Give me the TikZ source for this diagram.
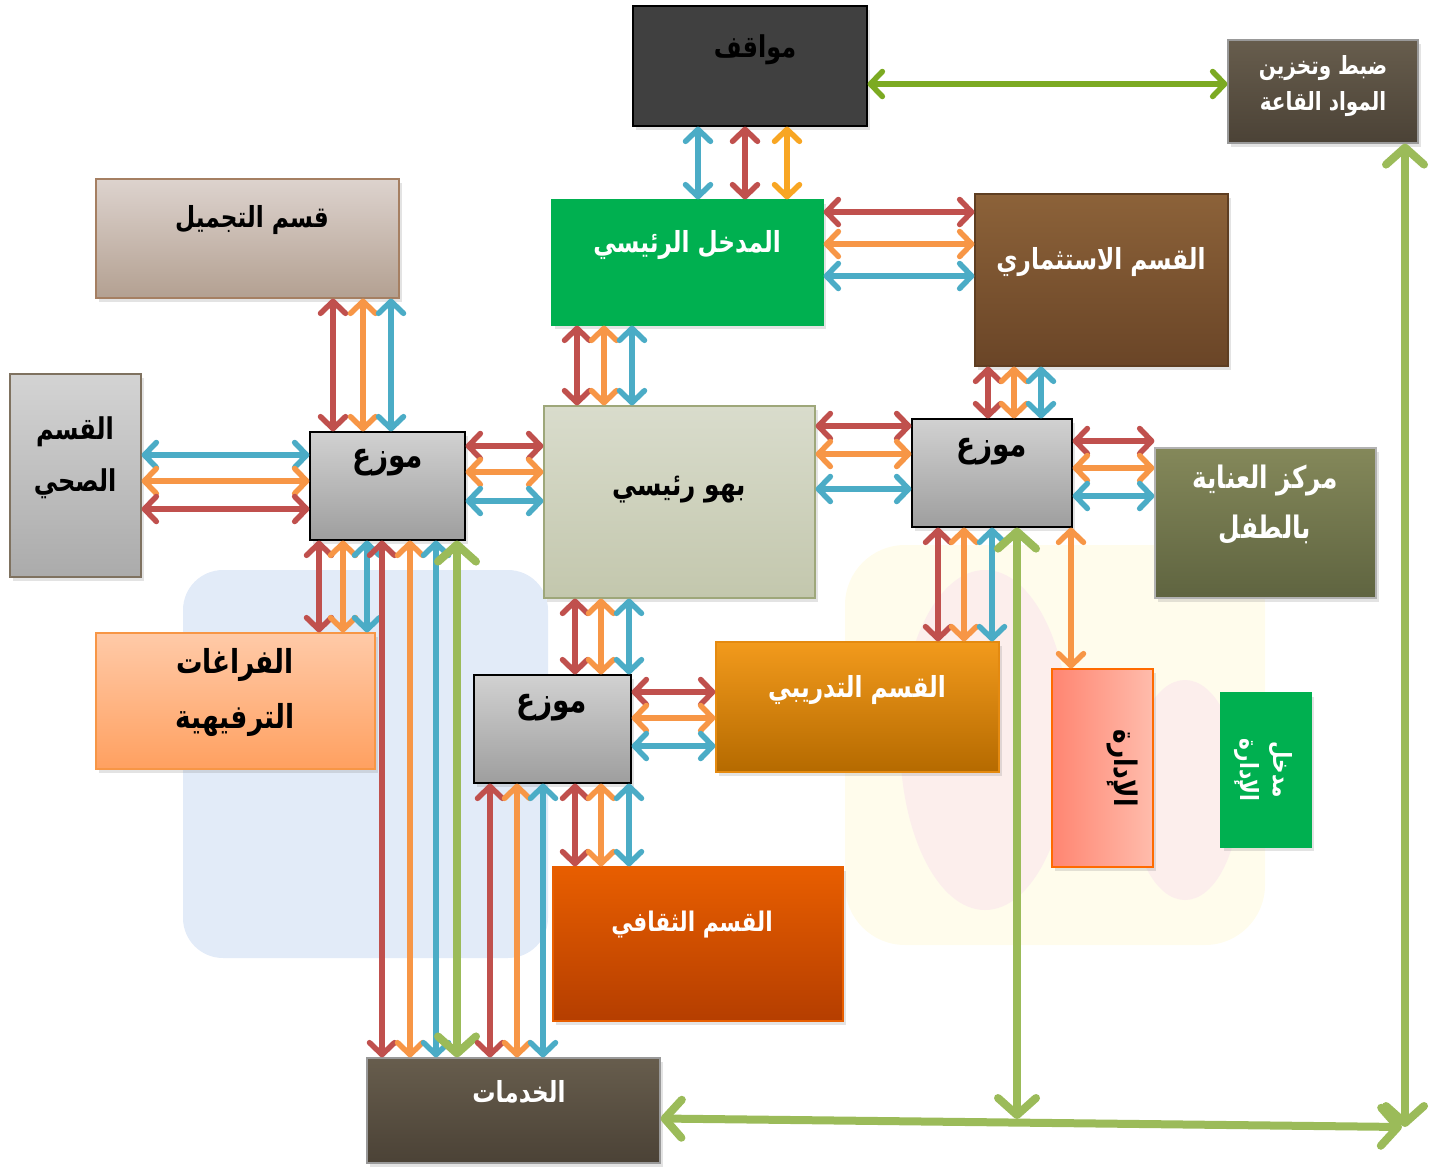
\documentclass[tikz,border=0pt]{standalone}
\usepackage{fontspec}
\newfontfamily\arabicfont[Script=Arabic,FakeStretch=0.8]{DejaVu Sans}
\TeXXeTstate=1
\usetikzlibrary{arrows.meta,shadows}

\definecolor{cred}{HTML}{C0504D}
\definecolor{corange}{HTML}{F79646}
\definecolor{cblue}{HTML}{4BACC6}
\definecolor{cgreen}{HTML}{9BBB59}
\definecolor{cgold}{HTML}{F8A623}
\definecolor{cdkgreen}{HTML}{7CAA22}
\definecolor{cleaf}{HTML}{00B050}
\definecolor{servTop}{HTML}{675D4D}
\definecolor{servBot}{HTML}{4B4236}
\definecolor{invTop}{HTML}{8C6239}
\definecolor{invBot}{HTML}{6A4527}
\definecolor{invLine}{HTML}{5E3E22}
\definecolor{beaTop}{HTML}{DDD3CE}
\definecolor{beaBot}{HTML}{B3A091}
\definecolor{beaLine}{HTML}{A57F62}
\definecolor{heaLine}{HTML}{7F7260}
\definecolor{lobTop}{HTML}{D9DCCC}
\definecolor{lobBot}{HTML}{C3C7AD}
\definecolor{lobLine}{HTML}{9EA77A}
\definecolor{chiTop}{HTML}{84885A}
\definecolor{chiBot}{HTML}{5F6440}
\definecolor{recTop}{HTML}{FFCAA8}
\definecolor{recBot}{HTML}{FFA060}
\definecolor{traTop}{HTML}{F29A1C}
\definecolor{traBot}{HTML}{B56A00}
\definecolor{traLine}{HTML}{E48A10}
\definecolor{admLeft}{HTML}{FF8571}
\definecolor{admRight}{HTML}{FFBCAC}
\definecolor{admLine}{HTML}{FF6A00}
\definecolor{culTop}{HTML}{E85E00}
\definecolor{culBot}{HTML}{B53E00}
\definecolor{washBlue}{HTML}{E2EBF8}
\definecolor{washYellow}{HTML}{FFFCEC}
\definecolor{washPink}{HTML}{FCEEEC}

\tikzset{
  box/.style={draw=#1, line width=1.2pt, inner sep=0pt,
    drop shadow={opacity=0.22, shadow xshift=3pt, shadow yshift=-4pt}},
  dist/.style={box=black, top color=black!18, bottom color=black!38,
    minimum height=108pt},
  lbl/.style={font=\arabicfont\bfseries\fontsize{29}{40}\selectfont,
    align=center, inner sep=0pt},
  link/.style={draw=#1, line width=5.5pt,
    {Straight Barb[length=12pt,width=25pt,round]}-{Straight Barb[length=12pt,width=25pt,round]}},
  glink/.style={draw=cgreen, line width=8pt,
    {Straight Barb[length=17pt,width=38pt,round]}-{Straight Barb[length=17pt,width=38pt,round]}},
}

\begin{document}
\begin{tikzpicture}[x=1pt,y=-1pt]
  \useasboundingbox (0,0) rectangle (1430,1167);

  % faded picture behind the plan
  \fill[washBlue, rounded corners=40pt] (183,570) rectangle (548,958);
  \fill[washYellow, rounded corners=60pt] (845,545) rectangle (1265,945);
  \fill[washPink] (985,740) ellipse (85pt and 170pt);
  \fill[washPink] (1185,790) ellipse (55pt and 110pt);

  % boxes
  \node[box=black, fill=black!75, minimum width=234pt, minimum height=120pt]
    (park) at (750,66) {};
  \node[box=black!40, top color=servTop, bottom color=servBot,
    minimum width=190pt, minimum height=103pt] (store) at (1323,91.5) {};
  \node[box=cleaf, fill=cleaf, minimum width=271pt, minimum height=125pt]
    (entr) at (687.5,262.5) {};
  \node[box=invLine, top color=invTop, bottom color=invBot,
    minimum width=253pt, minimum height=172pt] (invest) at (1101.5,280) {};
  \node[box=beaLine, top color=beaTop, bottom color=beaBot,
    minimum width=303pt, minimum height=119pt] (beauty) at (247.5,238.5) {};
  \node[box=heaLine, top color=black!17, bottom color=black!33,
    minimum width=131pt, minimum height=203pt] (health) at (75.5,475.5) {};
  \node[dist, minimum width=155pt] (distL) at (387.5,486) {};
  \node[box=lobLine, top color=lobTop, bottom color=lobBot,
    minimum width=271pt, minimum height=192pt] (lobby) at (679.5,502) {};
  \node[dist, minimum width=160pt] (distR) at (992,473) {};
  \node[box=black!30, top color=chiTop, bottom color=chiBot,
    minimum width=221pt, minimum height=150pt] (child) at (1265.5,523) {};
  \node[box=corange, top color=recTop, bottom color=recBot,
    minimum width=279pt, minimum height=136pt] (recr) at (235.5,701) {};
  \node[dist, minimum width=157pt] (distB) at (552.5,729) {};
  \node[box=traLine, top color=traTop, bottom color=traBot,
    minimum width=283pt, minimum height=130pt] (train) at (857.5,707) {};
  \node[box=admLine, left color=admLeft, right color=admRight,
    minimum width=101pt, minimum height=198pt] (admin) at (1102.5,768) {};
  \node[box=cleaf, fill=cleaf, minimum width=90pt, minimum height=154pt]
    (admEntr) at (1266,770) {};
  \node[box=culTop, top color=culTop, bottom color=culBot,
    minimum width=290pt, minimum height=154pt] (cult) at (698,944) {};
  \node[box=black!40, top color=servTop, bottom color=servBot,
    minimum width=293pt, minimum height=105pt] (serv) at (513.5,1110.5) {};

  % texts
  \node[lbl, font=\arabicfont\bfseries\fontsize{30}{40}\selectfont] (parkT) at (755,50) {\beginR مواقف\endR};
  \node[lbl, text=white, font=\arabicfont\bfseries\fontsize{25}{36}\selectfont]
    (storeT) at (1323,86) {\beginR ضبط وتخزين\endR\\\beginR المواد القاعة\endR};
  \node[lbl, text=white] (entrT) at (687,245) {\beginR المدخل الرئيسي\endR};
  \node[lbl, text=white] (investT) at (1101,262) {\beginR القسم الاستثماري\endR};
  \node[lbl] (beautyT) at (252,220) {\beginR قسم التجميل\endR};
  \node[lbl, font=\arabicfont\bfseries\fontsize{30}{52}\selectfont]
    (healthT) at (75,458) {\beginR القسم\endR\\\beginR الصحي\endR};
  \node[lbl, font=\arabicfont\bfseries\fontsize{35}{40}\selectfont] (distLT) at (388,463) {\beginR موزع\endR};
  \node[lbl, font=\arabicfont\bfseries\fontsize{31}{40}\selectfont] (lobbyT) at (679,490) {\beginR بهو رئيسي\endR};
  \node[lbl, font=\arabicfont\bfseries\fontsize{35}{40}\selectfont] (distRT) at (992,452) {\beginR موزع\endR};
  \node[lbl, text=white, font=\arabicfont\bfseries\fontsize{31}{50}\selectfont]
    (childT) at (1265,505) {\beginR مركز العناية\endR\\\beginR بالطفل\endR};
  \node[lbl, font=\arabicfont\bfseries\fontsize{33}{55}\selectfont]
    (recrT) at (235,692) {\beginR الفراغات\endR\\\beginR الترفيهية\endR};
  \node[lbl, font=\arabicfont\bfseries\fontsize{35}{40}\selectfont] (distBT) at (552,708) {\beginR موزع\endR};
  \node[lbl, text=white] (trainT) at (857,690) {\beginR القسم التدريبي\endR};
  \node[lbl, rotate=-90, font=\arabicfont\bfseries\fontsize{31}{40}\selectfont]
    (adminT) at (1122,768) {\beginR الإدارة\endR};
  \node[lbl, rotate=-90, text=white, font=\arabicfont\bfseries\fontsize{25}{33}\selectfont]
    (admEntrT) at (1263,770) {\beginR مدخل\endR\\\beginR الإدارة\endR};
  \node[lbl, text=white, font=\arabicfont\bfseries\fontsize{27}{40}\selectfont]
    (cultT) at (692,925) {\beginR القسم الثقافي\endR};
  \node[lbl, text=white] (servT) at (519,1092) {\beginR الخدمات\endR};

  % parking
  \draw[link=cblue]  ([xshift=-52pt]park.south) -- ([xshift=-52pt]park.south |- entr.north);
  \draw[link=cred]   ([xshift=-5pt]park.south) -- ([xshift=-5pt]park.south |- entr.north);
  \draw[link=cgold]  ([xshift=37pt]park.south) -- ([xshift=37pt]park.south |- entr.north);
  \draw[link=cdkgreen] ([yshift=-18pt]park.east) -- ([yshift=-18pt]park.east -| store.west);

  % main entrance
  \draw[link=cred]    ([yshift=50.5pt]entr.east) -- ([yshift=50.5pt]entr.east -| invest.west);
  \draw[link=corange] ([yshift=18.5pt]entr.east) -- ([yshift=18.5pt]entr.east -| invest.west);
  \draw[link=cblue]   ([yshift=-13.5pt]entr.east) -- ([yshift=-13.5pt]entr.east -| invest.west);
  \draw[link=cred]    ([xshift=-110.5pt]entr.south) -- ([xshift=-110.5pt]entr.south |- lobby.north);
  \draw[link=corange] ([xshift=-83.5pt]entr.south) -- ([xshift=-83.5pt]entr.south |- lobby.north);
  \draw[link=cblue]   ([xshift=-55.5pt]entr.south) -- ([xshift=-55.5pt]entr.south |- lobby.north);

  % left distributor
  \draw[link=cred]    ([xshift=-54.5pt]distL.north) -- ([xshift=-54.5pt]distL.north |- beauty.south);
  \draw[link=corange] ([xshift=-24.5pt]distL.north) -- ([xshift=-24.5pt]distL.north |- beauty.south);
  \draw[link=cblue]   ([xshift=3.5pt]distL.north) -- ([xshift=3.5pt]distL.north |- beauty.south);
  \draw[link=cblue]   ([yshift=31pt]distL.west) -- ([yshift=31pt]distL.west -| health.east);
  \draw[link=corange] ([yshift=5pt]distL.west) -- ([yshift=5pt]distL.west -| health.east);
  \draw[link=cred]    ([yshift=-23pt]distL.west) -- ([yshift=-23pt]distL.west -| health.east);
  \draw[link=cred]    ([yshift=40pt]distL.east) -- ([yshift=40pt]distL.east -| lobby.west);
  \draw[link=corange] ([yshift=14pt]distL.east) -- ([yshift=14pt]distL.east -| lobby.west);
  \draw[link=cblue]   ([yshift=-15pt]distL.east) -- ([yshift=-15pt]distL.east -| lobby.west);
  \draw[link=cred]    ([xshift=-68.5pt]distL.south) -- ([xshift=-68.5pt]distL.south |- recr.north);
  \draw[link=corange] ([xshift=-44.5pt]distL.south) -- ([xshift=-44.5pt]distL.south |- recr.north);
  \draw[link=cblue]   ([xshift=-20.5pt]distL.south) -- ([xshift=-20.5pt]distL.south |- recr.north);
  \draw[link=cred]    ([xshift=-5.5pt]distL.south) -- ([xshift=-5.5pt]distL.south |- serv.north);
  \draw[link=corange] ([xshift=22.5pt]distL.south) -- ([xshift=22.5pt]distL.south |- serv.north);
  \draw[link=cblue]   ([xshift=48.5pt]distL.south) -- ([xshift=48.5pt]distL.south |- serv.north);
  \draw[glink]        ([xshift=69.5pt]distL.south) -- ([xshift=69.5pt]distL.south |- serv.north);

  % right distributor
  \draw[link=cred]    ([xshift=-4pt]distR.north) -- ([xshift=-4pt]distR.north |- invest.south);
  \draw[link=corange] ([xshift=22pt]distR.north) -- ([xshift=22pt]distR.north |- invest.south);
  \draw[link=cblue]   ([xshift=49pt]distR.north) -- ([xshift=49pt]distR.north |- invest.south);
  \draw[link=cred]    ([yshift=47pt]distR.west) -- ([yshift=47pt]distR.west -| lobby.east);
  \draw[link=corange] ([yshift=19pt]distR.west) -- ([yshift=19pt]distR.west -| lobby.east);
  \draw[link=cblue]   ([yshift=-16pt]distR.west) -- ([yshift=-16pt]distR.west -| lobby.east);
  \draw[link=cred]    ([yshift=32pt]distR.east) -- ([yshift=32pt]distR.east -| child.west);
  \draw[link=corange] ([yshift=5pt]distR.east) -- ([yshift=5pt]distR.east -| child.west);
  \draw[link=cblue]   ([yshift=-23pt]distR.east) -- ([yshift=-23pt]distR.east -| child.west);
  \draw[link=cred]    ([xshift=-54pt]distR.south) -- ([xshift=-54pt]distR.south |- train.north);
  \draw[link=corange] ([xshift=-28pt]distR.south) -- ([xshift=-28pt]distR.south |- train.north);
  \draw[link=cblue]   (distR.south) -- (distR.south |- train.north);
  \draw[link=corange] ([xshift=-31.5pt]admin.north) -- ([xshift=-31.5pt]admin.north |- distR.south);

  % bottom distributor
  \draw[link=cred]    ([xshift=22.5pt]distB.north) -- ([xshift=22.5pt]distB.north |- lobby.south);
  \draw[link=corange] ([xshift=48.5pt]distB.north) -- ([xshift=48.5pt]distB.north |- lobby.south);
  \draw[link=cblue]   ([xshift=76.5pt]distB.north) -- ([xshift=76.5pt]distB.north |- lobby.south);
  \draw[link=cred]    ([yshift=37pt]distB.east) -- ([yshift=37pt]distB.east -| train.west);
  \draw[link=corange] ([yshift=11pt]distB.east) -- ([yshift=11pt]distB.east -| train.west);
  \draw[link=cblue]   ([yshift=-17pt]distB.east) -- ([yshift=-17pt]distB.east -| train.west);
  \draw[link=cred]    ([xshift=22.5pt]distB.south) -- ([xshift=22.5pt]distB.south |- cult.north);
  \draw[link=corange] ([xshift=48.5pt]distB.south) -- ([xshift=48.5pt]distB.south |- cult.north);
  \draw[link=cblue]   ([xshift=76.5pt]distB.south) -- ([xshift=76.5pt]distB.south |- cult.north);
  \draw[link=cred]    ([xshift=-62.5pt]distB.south) -- ([xshift=-62.5pt]distB.south |- serv.north);
  \draw[link=corange] ([xshift=-35.5pt]distB.south) -- ([xshift=-35.5pt]distB.south |- serv.north);
  \draw[link=cblue]   ([xshift=-9.5pt]distB.south) -- ([xshift=-9.5pt]distB.south |- serv.north);

  % green service loop
  \coordinate (gjoin) at (1017,1119);
  \coordinate (gcorner) at (1402,1127);
  \draw[glink] ([xshift=25pt]distR.south) -- (gjoin);
  \draw[glink] ([xshift=82pt]store.south) -- ([xshift=82pt]store.south |- gcorner);
  \draw[glink] ([yshift=-8pt]serv.east) -- (gcorner);
\end{tikzpicture}
\end{document}
